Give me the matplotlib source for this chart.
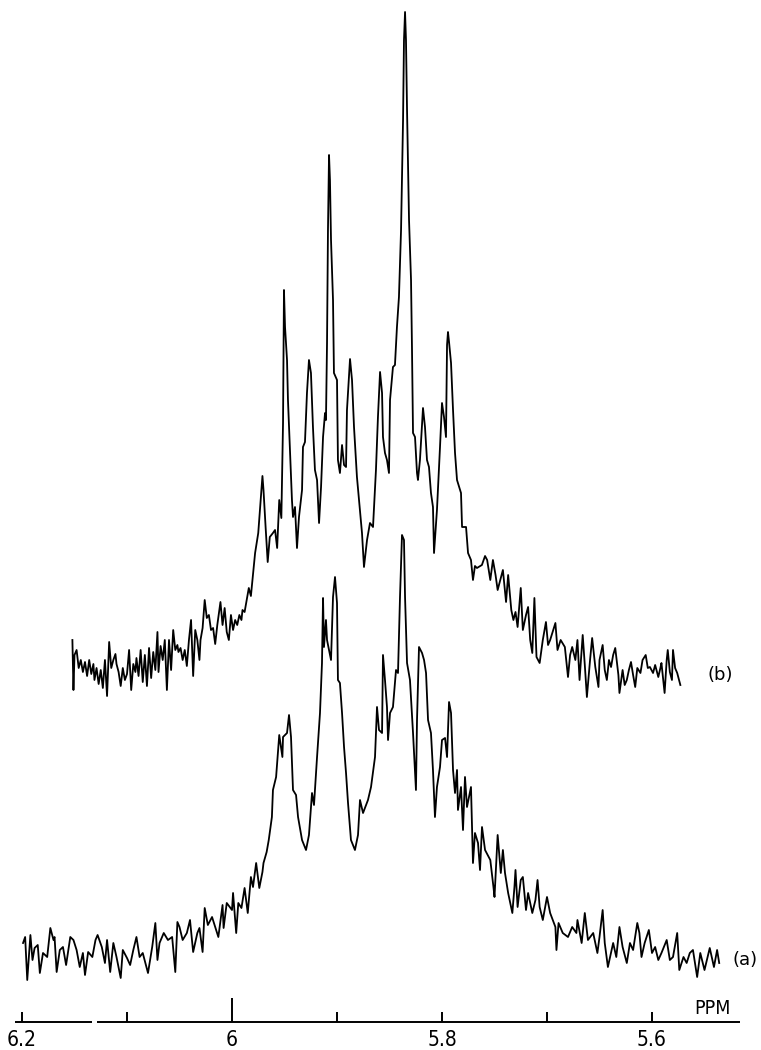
import matplotlib
matplotlib.use('Agg')
import matplotlib.pyplot as plt

# trace (b): chemical shift (ppm) and intensity (arbitrary units, height above axis)
b_ppm = [6.152, 6.151, 6.150, 6.148, 6.146, 6.144, 6.142, 6.140, 6.138, 6.136,
         6.134, 6.132, 6.131, 6.129, 6.127, 6.125, 6.123, 6.121, 6.119, 6.117,
         6.115, 6.113, 6.111, 6.110, 6.108, 6.106, 6.104, 6.102, 6.100, 6.098,
         6.096, 6.094, 6.092, 6.091, 6.089, 6.087, 6.085, 6.083, 6.081, 6.079,
         6.077, 6.075, 6.073, 6.071, 6.070, 6.068, 6.066, 6.064, 6.062, 6.060,
         6.058, 6.056, 6.054, 6.052, 6.051, 6.049, 6.047, 6.045, 6.043, 6.041,
         6.039, 6.037, 6.035, 6.033, 6.031, 6.030, 6.028, 6.026, 6.024, 6.022,
         6.020, 6.018, 6.016, 6.014, 6.012, 6.011, 6.009, 6.007, 6.005, 6.003,
         6.001, 5.999, 5.997, 5.995, 5.993, 5.991, 5.990, 5.988, 5.986, 5.984,
         5.982, 5.980, 5.978, 5.975, 5.971, 5.970, 5.968, 5.966, 5.964, 5.961,
         5.959, 5.957, 5.955, 5.953, 5.9514, 5.9505, 5.9495, 5.9476, 5.9467, 5.9448,
         5.9429, 5.9419, 5.9400, 5.9381, 5.9362, 5.9333, 5.9324, 5.9305, 5.9286, 5.9267,
         5.9248, 5.9229, 5.9210, 5.9190, 5.9171, 5.9152, 5.9133, 5.9114, 5.9105, 5.9095,
         5.9086, 5.9076, 5.9067, 5.9057, 5.9038, 5.9029, 5.9000, 5.8991, 5.8972, 5.8952,
         5.8933, 5.8914, 5.8905, 5.8876, 5.8857, 5.8838, 5.8810, 5.8790, 5.8762, 5.8743,
         5.8714, 5.8686, 5.8657, 5.8629, 5.8610, 5.8590, 5.8571, 5.8562, 5.8543, 5.8524,
         5.8505, 5.8495, 5.8467, 5.8448, 5.8429, 5.8410, 5.8390, 5.8371, 5.8362, 5.8352,
         5.8343, 5.8333, 5.8314, 5.8295, 5.8286, 5.8276, 5.8257, 5.8238, 5.8229, 5.8210,
         5.8181, 5.8162, 5.8143, 5.8124, 5.8105, 5.8086, 5.8076, 5.8048, 5.8019, 5.8000,
         5.7981, 5.7962, 5.7952, 5.7943, 5.7933, 5.7914, 5.7895, 5.7876, 5.7857, 5.7819,
         5.7809, 5.7771, 5.7752, 5.7724, 5.7705, 5.7686, 5.7667, 5.762, 5.759, 5.757,
         5.754, 5.7515, 5.749, 5.747, 5.744, 5.742, 5.739, 5.737, 5.734, 5.732,
         5.730, 5.728, 5.725, 5.723, 5.720, 5.718, 5.716, 5.714, 5.712, 5.710,
         5.707, 5.704, 5.701, 5.699, 5.697, 5.694, 5.692, 5.690, 5.687, 5.683,
         5.680, 5.678, 5.676, 5.673, 5.671, 5.669, 5.666, 5.664, 5.662, 5.659,
         5.657, 5.654, 5.651, 5.650, 5.647, 5.645, 5.643, 5.641, 5.639, 5.637,
         5.635, 5.632, 5.631, 5.628, 5.626, 5.624, 5.622, 5.620, 5.618, 5.616,
         5.614, 5.611, 5.609, 5.606, 5.604, 5.602, 5.599, 5.597, 5.594, 5.592,
         5.591, 5.588, 5.586, 5.585, 5.583, 5.581, 5.580, 5.578, 5.576, 5.573]
b_int = [382, 332, 367, 372, 354, 362, 350, 360, 346, 362,
         348, 358, 342, 354, 338, 352, 334, 362, 326, 380,
         354, 362, 368, 358, 350, 336, 354, 342, 348, 372,
         332, 358, 350, 364, 346, 372, 340, 367, 336, 374,
         344, 370, 352, 390, 350, 376, 362, 382, 332, 382,
         352, 392, 372, 377, 370, 374, 362, 372, 356, 382,
         402, 346, 392, 382, 362, 382, 394, 422, 404, 407,
         392, 394, 378, 397, 412, 420, 397, 414, 390, 382,
         407, 392, 402, 397, 407, 402, 412, 410, 422, 434,
         426, 447, 469, 489, 546, 532, 495, 460, 485, 489,
         492, 474, 522, 504, 599, 732, 695, 662, 622, 572,
         522, 505, 515, 474, 505, 532, 575, 580, 629, 662,
         649, 595, 552, 542, 499, 535, 585, 609, 602, 679,
         792, 867, 842, 782, 722, 649, 642, 562, 549, 577,
         557, 555, 612, 663, 642, 595, 545, 522, 489, 455,
         482, 499, 495, 552, 605, 650, 629, 585, 569, 562,
         549, 622, 655, 657, 695, 725, 792, 902, 982, 1010,
         982, 912, 802, 742, 675, 589, 585, 549, 542, 562,
         614, 595, 562, 555, 529, 515, 469, 512, 575, 619,
         605, 585, 677, 690, 680, 659, 612, 569, 542, 529,
         495, 495, 469, 462, 442, 456, 454, 457, 466, 462,
         442, 462, 447, 432, 444, 452, 420, 447, 412, 402,
         410, 395, 434, 392, 407, 415, 382, 369, 424, 365,
         359, 382, 400, 377, 382, 392, 399, 372, 382, 375,
         345, 367, 375, 362, 382, 342, 387, 357, 325, 362,
         384, 355, 335, 362, 377, 352, 342, 362, 355, 367,
         374, 347, 329, 352, 337, 342, 352, 360, 347, 335,
         354, 349, 362, 367, 354, 355, 349, 357, 345, 354,
         359, 329, 362, 372, 350, 342, 372, 354, 349, 337]

# trace (a)
a_ppm = [6.199, 6.197, 6.195, 6.192, 6.190, 6.188, 6.185, 6.183, 6.180, 6.176,
         6.173, 6.170, 6.169, 6.167, 6.164, 6.161, 6.158, 6.154, 6.151, 6.148,
         6.145, 6.142, 6.140, 6.137, 6.133, 6.130, 6.128, 6.124, 6.121, 6.119,
         6.116, 6.113, 6.110, 6.106, 6.104, 6.100, 6.097, 6.094, 6.091, 6.088,
         6.085, 6.080, 6.076, 6.073, 6.071, 6.069, 6.065, 6.061, 6.057, 6.054,
         6.052, 6.050, 6.047, 6.043, 6.040, 6.037, 6.033, 6.031, 6.028, 6.026,
         6.023, 6.019, 6.016, 6.013, 6.009, 6.008, 6.005, 6.000, 5.999, 5.996,
         5.994, 5.991, 5.988, 5.985, 5.982, 5.980, 5.977, 5.974, 5.971, 5.970,
         5.967, 5.965, 5.962, 5.961, 5.958, 5.955, 5.952, 5.9514, 5.9476, 5.9457,
         5.9438, 5.9419, 5.9390, 5.9371, 5.9333, 5.9295, 5.9267, 5.9238, 5.9219, 5.9190,
         5.9162, 5.9143, 5.9133, 5.9124, 5.9105, 5.9095, 5.9076, 5.9057, 5.9038, 5.9019,
         5.9000, 5.8991, 5.8972, 5.8952, 5.8933, 5.8914, 5.8895, 5.8867, 5.8829, 5.8800,
         5.8781, 5.8752, 5.8705, 5.8676, 5.8638, 5.8619, 5.8600, 5.8571, 5.8562, 5.8543,
         5.8524, 5.8514, 5.8495, 5.8467, 5.8438, 5.8419, 5.8400, 5.8381, 5.8362, 5.8352,
         5.8333, 5.8305, 5.8276, 5.8248, 5.8238, 5.8219, 5.8190, 5.8171, 5.8152, 5.8133,
         5.8105, 5.8086, 5.8067, 5.8048, 5.8019, 5.8000, 5.7971, 5.7952, 5.7933, 5.7914,
         5.7895, 5.7876, 5.7857, 5.7848, 5.7819, 5.7800, 5.7781, 5.7762, 5.7724, 5.7705,
         5.7686, 5.7657, 5.7638, 5.7619, 5.7590, 5.754, 5.751, 5.750, 5.747, 5.744,
         5.742, 5.740, 5.737, 5.733, 5.731, 5.730, 5.728, 5.725, 5.723, 5.720,
         5.718, 5.714, 5.711, 5.709, 5.707, 5.704, 5.700, 5.697, 5.692, 5.691,
         5.689, 5.685, 5.680, 5.676, 5.672, 5.671, 5.667, 5.664, 5.661, 5.656,
         5.652, 5.650, 5.647, 5.645, 5.642, 5.637, 5.634, 5.631, 5.628, 5.624,
         5.621, 5.618, 5.614, 5.612, 5.610, 5.607, 5.603, 5.600, 5.597, 5.594,
         5.591, 5.586, 5.583, 5.580, 5.576, 5.574, 5.570, 5.567, 5.564, 5.561,
         5.557, 5.554, 5.550, 5.545, 5.541, 5.538, 5.536]
a_int = [79, 85, 42, 87, 62, 74, 77, 49, 69, 65,
         94, 82, 85, 50, 72, 75, 57, 85, 82, 72,
         55, 69, 47, 70, 65, 82, 87, 75, 59, 82,
         50, 79, 65, 44, 72, 64, 57, 72, 85, 65,
         69, 49, 75, 99, 62, 79, 89, 82, 85, 50,
         100, 95, 82, 89, 102, 70, 89, 94, 70, 114,
         97, 105, 95, 85, 117, 94, 119, 112, 129, 89,
         119, 114, 134, 109, 145, 135, 159, 134, 150, 159,
         170, 182, 205, 232, 245, 287, 265, 285, 289, 307,
         285, 232, 227, 205, 182, 172, 187, 229, 217, 265,
         309, 359, 424, 375, 402, 382, 372, 362, 425, 445,
         419, 342, 339, 309, 275, 249, 219, 182, 172, 187,
         222, 209, 222, 235, 265, 315, 292, 289, 367, 342,
         315, 282, 309, 315, 352, 349, 425, 487, 482, 425,
         359, 342, 289, 232, 302, 375, 369, 362, 349, 302,
         289, 252, 205, 235, 255, 282, 284, 265, 320, 309,
         252, 229, 252, 212, 235, 192, 245, 215, 235, 159,
         189, 179, 152, 195, 172, 162, 135, 125, 187, 149,
         172, 149, 129, 109, 135, 152, 115, 142, 145, 112,
         129, 109, 122, 142, 115, 102, 125, 109, 95, 72,
         99, 89, 85, 95, 89, 102, 79, 109, 82, 89,
         69, 85, 112, 79, 55, 79, 65, 95, 75, 59,
         79, 72, 99, 89, 65, 79, 92, 69, 75, 62,
         69, 82, 62, 65, 89, 52, 65, 59, 69, 72,
         45, 69, 52, 74, 55, 72, 59]

ticks = [6.2, 6.1, 6.0, 5.9, 5.8, 5.7, 5.6]
tick_labels = ['6.2', '', '6', '', '5.8', '', '5.6']

fig = plt.figure(figsize=(7.61, 10.5), dpi=100)
ax = fig.add_axes([0, 0, 1, 1])
ax.axis('off')

ax.plot(b_ppm, b_int, color='black', lw=1.3)
ax.plot(a_ppm, a_int, color='black', lw=1.3)

# ppm axis drawn by hand (the scan has a small break in the line)
ax.hlines(0, 6.207, 6.133, color='black', lw=1.4)
ax.hlines(0, 6.129, 5.516, color='black', lw=1.4)
for t, lab in zip(ticks, tick_labels):
    tall = 24 if abs(t - 6.0) < 1e-6 else 10
    ax.vlines(t, 0, tall, color='black', lw=1.4)
    if lab:
        ax.text(t, -8, lab, ha='center', va='top', fontsize=15,
                fontstretch='condensed')

ax.text(5.542, 4, 'PPM', ha='center', va='bottom', fontsize=14,
        fontstretch='condensed')
ax.text(5.535, 347, '(b)', ha='center', va='center', fontsize=13)
ax.text(5.511, 62, '(a)', ha='center', va='center', fontsize=13)

ax.set_xlim(6.22095, 5.49619)
ax.set_ylim(-28, 1022)

plt.savefig('out.png', dpi=100)
